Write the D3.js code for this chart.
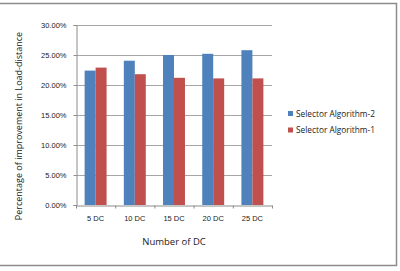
<!DOCTYPE html>
<html lang="en">
<head>
<meta charset="UTF-8">
<title>Improvement in Load-distance</title>
<style>
    body { margin: 0; background: #fff; }
    svg { display: block; font-family: "Open Sans", Arial, sans-serif; }
    .tick text { font-size: 7.5px; fill: #222; }
    .grid line { stroke: #a6a6a6; stroke-width: 1.2px; }
</style>
</head>
<body>
<div id="chart"></div>
<script src="https://d3js.org/d3.v7.min.js"></script>
<script>
    // data
    const categories = ["5 DC", "10 DC", "15 DC", "20 DC", "25 DC"];
    const seriesNames = ["Selector Algorithm-2", "Selector Algorithm-1"];
    const algo2 = [0.224, 0.2405, 0.250, 0.252, 0.258];
    const algo1 = [0.229, 0.218, 0.212, 0.211, 0.211];
    const yTicks = [0, 0.05, 0.10, 0.15, 0.20, 0.25, 0.30];
    const colors = ["#4f81bd", "#c0504d"];

    const width = 400, height = 271;
    const margin = {top: 25, right: 128, bottom: 66, left: 76};

    const svg = d3.select("#chart").append("svg")
        .attr("width", width)
        .attr("height", height);

    // outer frame
    svg.append("path")
        .attr("d", `M0,3.5H396.5V265.5H0`)
        .attr("fill", "none")
        .attr("stroke", "#8c8c8c")
        .attr("stroke-width", 1.5);

    const x0 = d3.scaleBand()
        .domain(categories)
        .range([margin.left, width - margin.right])
        .paddingInner(0.44)
        .paddingOuter(0.22);

    const x1 = d3.scaleBand()
        .domain(seriesNames)
        .range([0, x0.bandwidth()]);

    const y = d3.scaleLinear()
        .domain([0, 0.30])
        .range([height - margin.bottom, margin.top]);

    // gridlines
    svg.append("g")
        .attr("class", "grid")
        .selectAll("line")
        .data(yTicks.slice(1))
        .join("line")
        .attr("x1", margin.left)
        .attr("x2", width - margin.right)
        .attr("y1", d => Math.round(y(d)) + 0.5)
        .attr("y2", d => Math.round(y(d)) + 0.5);

    const rows = categories.map((c, i) => ({cat: c, vals: [algo2[i], algo1[i]]}));

    svg.append("g")
        .selectAll("g")
        .data(rows)
        .join("g")
        .attr("transform", d => `translate(${x0(d.cat)},0)`)
        .selectAll("rect")
        .data(d => d.vals.map((v, j) => ({name: seriesNames[j], v, j})))
        .join("rect")
        .attr("x", d => x1(d.name))
        .attr("width", x1.bandwidth())
        .attr("y", d => y(d.v))
        .attr("height", d => y(0) - y(d.v))
        .attr("fill", d => colors[d.j]);

    // y axis
    const yAxis = svg.append("g")
        .attr("transform", `translate(${margin.left + 0.5},0)`)
        .call(d3.axisLeft(y).tickValues(yTicks).tickSize(3).tickPadding(7)
            .tickFormat(d3.format(".2%")));
    yAxis.select(".domain").attr("stroke", "#8c8c8c");
    yAxis.selectAll(".tick line").attr("stroke", "#8c8c8c");

    // x axis
    const xAxis = svg.append("g")
        .attr("transform", `translate(0,${y(0) + 0.5})`)
        .call(d3.axisBottom(x0).tickSize(0).tickPadding(10));
    xAxis.select(".domain").attr("stroke", "#8c8c8c");
    // tick marks between categories
    const step = x0.step();
    xAxis.selectAll(".sep")
        .data(d3.range(categories.length + 1))
        .join("line")
        .attr("class", "sep")
        .attr("x1", i => margin.left + i * step + 0.5)
        .attr("x2", i => margin.left + i * step + 0.5)
        .attr("y1", 0)
        .attr("y2", 3)
        .attr("stroke", "#8c8c8c");

    // axis titles
    svg.append("text")
        .attr("x", (margin.left + width - margin.right) / 2)
        .attr("y", 245)
        .attr("text-anchor", "middle")
        .attr("font-size", 9.5)
        .attr("fill", "#222")
        .text("Number of DC");

    svg.append("text")
        .attr("transform", `translate(22,126) rotate(-90)`)
        .attr("text-anchor", "middle")
        .attr("font-size", 9)
        .attr("fill", "#222")
        .text("Percentage of improvement in Load-distance");

    // legend
    const legend = svg.append("g")
        .selectAll("g")
        .data(seriesNames)
        .join("g")
        .attr("transform", (d, i) => `translate(288,${111 + i * 16.5})`);
    legend.append("rect")
        .attr("width", 5)
        .attr("height", 5)
        .attr("fill", (d, i) => colors[i]);
    legend.append("text")
        .attr("x", 8)
        .attr("y", 5.5)
        .attr("font-size", 8.3)
        .attr("fill", "#222")
        .text(d => d);
</script>
</body>
</html>
